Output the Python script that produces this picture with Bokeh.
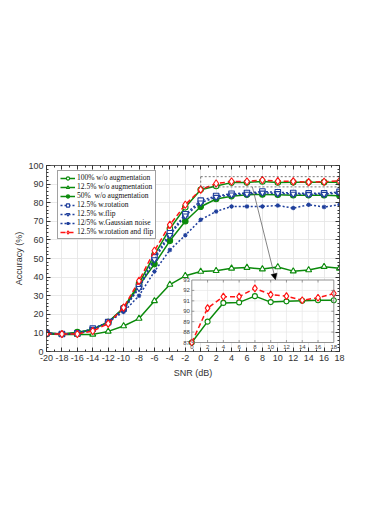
import numpy as np
from bokeh.plotting import figure
from bokeh.embed import file_html
from bokeh.resources import INLINE
from bokeh.models import (Range1d, LinearAxis, SingleIntervalTicker, Arrow, NormalHead,
                          PrintfTickFormatter)
from bokeh.core.properties import value

# ---------------- data ----------------
snr = [-20, -18, -16, -14, -12, -10, -8, -6, -4, -2, 0, 2, 4, 6, 8, 10, 12, 14, 16, 18]
acc_100 = [10.0, 9.4, 9.8, 12.0, 15.8, 23.5, 36.5, 52.0, 66.0, 77.5, 87.0, 89.0, 90.8, 90.85, 91.45, 90.88, 90.95, 91.0, 91.05, 91.05]
acc_125 = [9.4, 9.2, 9.2, 9.2, 10.8, 13.7, 17.7, 27.2, 36.0, 40.7, 43.0, 43.4, 44.7, 45.1, 44.3, 45.4, 43.2, 43.8, 45.6, 44.7]
acc_50 = [9.8, 9.4, 10.4, 11.9, 15.8, 23.0, 35.5, 47.0, 59.5, 70.0, 77.8, 82.0, 83.5, 84.3, 84.4, 84.3, 84.0, 84.0, 84.0, 83.8]
acc_rot = [9.9, 9.4, 9.8, 12.3, 15.8, 23.0, 34.8, 50.6, 63.6, 73.8, 81.1, 83.6, 84.8, 85.2, 86.0, 85.6, 85.2, 85.0, 85.1, 85.8]
acc_flip = [9.8, 9.4, 9.7, 12.0, 15.5, 22.5, 34.0, 49.5, 62.5, 73.0, 80.0, 83.0, 84.3, 84.7, 85.3, 85.0, 84.7, 84.5, 84.6, 85.2]
acc_gauss = [9.7, 9.4, 9.6, 12.0, 15.8, 21.3, 30.0, 43.0, 54.6, 62.5, 70.8, 75.3, 78.0, 78.0, 78.0, 78.5, 77.1, 78.9, 77.7, 78.9]
acc_rf = [9.4, 9.4, 9.4, 11.0, 15.0, 23.6, 38.0, 54.2, 68.1, 78.9, 87.0, 90.3, 91.4, 91.4, 92.2, 91.6, 91.45, 91.05, 91.3, 91.7]

labels = ["100% w/o augmentation", "12.5% w/o augmentation", "50%  w/o augmentation",
          "12.5% w.rotation", "12.5% w.flip", "12/5% w.Gaussian noise",
          "12.5% w.rotation and flip"]

inset_xticks = [0, 2, 4, 6, 8, 10, 12, 14, 16, 18]
inset_yticks = [87, 88, 89, 90, 91, 92, 93]
zoom_box = dict(x0=0, x1=18, y0=88.5, y1=94)
arrow_pts = dict(x0=6.7, y0=88.5, x1=9.7, y1=38.6)

# ---------------- styling ----------------
GREEN = "#0b8a0b"
BLUE = "#1f3f9c"
RED = "#ff1414"
AX = "#333333"
FONT = value("Liberation Sans")
LFONT = "Liberation Serif"

FW, FH = 293, 186
p = figure(frame_width=FW, frame_height=FH,
           x_range=Range1d(-20, 18), y_range=Range1d(0, 100),
           output_backend="svg", toolbar_location=None,
           min_border_left=46, min_border_right=20, min_border_top=165, min_border_bottom=150)
p.outline_line_color = None
p.background_fill_color = "white"

xt = SingleIntervalTicker(interval=2, num_minor_ticks=2)
yt = SingleIntervalTicker(interval=10, num_minor_ticks=5)

def style_axis(ax, show_labels=True, label_standoff=4):
    ax.major_tick_in = 4
    ax.major_tick_out = 0
    ax.minor_tick_in = 2
    ax.minor_tick_out = 0
    ax.axis_line_color = AX
    ax.major_tick_line_color = AX
    ax.minor_tick_line_color = AX
    ax.axis_line_width = 0.8
    ax.formatter = PrintfTickFormatter(format="%d")
    ax.major_label_text_font = "Liberation Sans"
    ax.major_label_text_font_size = "9px"
    ax.major_label_text_color = AX if show_labels else None
    ax.major_label_standoff = 3
    ax.axis_label_text_font = "Liberation Sans"
    ax.axis_label_text_font_style = "normal"
    ax.axis_label_text_font_size = "9px"
    ax.axis_label_text_color = AX
    ax.axis_label_standoff = label_standoff

p.xaxis.ticker = xt
p.yaxis.ticker = yt
p.xaxis.axis_label = "SNR (dB)"
p.yaxis.axis_label = "Accuracy (%)"
style_axis(p.xaxis[0])
style_axis(p.yaxis[0], label_standoff=1)
top = LinearAxis(ticker=xt)
right = LinearAxis(ticker=yt)
style_axis(top, False)
style_axis(right, False)
p.add_layout(top, "above")
p.add_layout(right, "right")

p.xgrid.ticker = xt
p.ygrid.ticker = yt
for g in (p.xgrid[0], p.ygrid[0]):
    g.grid_line_color = "#e3e3e3"
    g.grid_line_width = 0.8

LW = 1.5
series = [
    (acc_100, GREEN, "solid", "circle", "white", 5.5),
    (acc_125, GREEN, "solid", "triangle", "white", 6),
    (acc_50, GREEN, "solid", "circle", GREEN, 5.5),
    (acc_rot, BLUE, "2 2", "square", "white", 5.5),
    (acc_flip, BLUE, "2 2", "inverted_triangle", "white", 6),
    (acc_gauss, BLUE, "2 2", "asterisk", BLUE, 4.5),
    (acc_rf, RED, "5 3", "diamond", "white", 7.5),
]
for (ys, col, dash, mk, fill, sz), lab in zip(series, labels):
    p.line(snr, ys, line_color=col, line_width=LW, line_dash=dash, legend_label=lab)
    p.scatter(snr, ys, marker=mk, size=sz, line_color=col, fill_color=fill,
              line_width=1.1, legend_label=lab)

# dashed zoom rectangle
p.quad(left=[zoom_box["x0"]], right=[zoom_box["x1"]], bottom=[zoom_box["y0"]], top=[zoom_box["y1"]],
       fill_color=None, line_color="#555555", line_width=0.8, line_dash="2 2")

# ---------------- inset via extra ranges ----------------
IL, IR, IT, IB = 145.3, 287.3, 114.5, 177.0   # inset box in frame pixels
ux = (inset_xticks[-1] - inset_xticks[0]) / (IR - IL)
uy = (inset_yticks[-1] - inset_yticks[0]) / (IB - IT)
p.extra_x_ranges = {"ix": Range1d(inset_xticks[0] - IL * ux, inset_xticks[-1] + (FW - IR) * ux)}
p.extra_y_ranges = {"iy": Range1d(inset_yticks[0] - (FH - IB) * uy, inset_yticks[-1] + IT * uy)}
ik = dict(x_range_name="ix", y_range_name="iy")
x0i, x1i = inset_xticks[0], inset_xticks[-1]
y0i, y1i = inset_yticks[0], inset_yticks[-1]

p.quad(left=[x0i], right=[x1i], bottom=[y0i], top=[y1i], fill_color="white",
       line_color=None, **ik)
# inset grid
gx = inset_xticks[1:-1]
gy = inset_yticks[1:-1]
p.segment(x0=gx, y0=[y0i] * len(gx), x1=gx, y1=[y1i] * len(gx), line_color="#e6e6e6", line_width=0.7, **ik)
p.segment(x0=[x0i] * len(gy), y0=gy, x1=[x1i] * len(gy), y1=gy, line_color="#e6e6e6", line_width=0.7, **ik)

snr_arr = np.array(snr)
mask = snr_arr >= 0
xi = snr_arr[mask]
g_in = np.array(acc_100)[mask]
r_in = np.array(acc_rf)[mask]
p.line(xi, g_in, line_color=GREEN, line_width=LW, **ik)
p.scatter(xi, g_in, marker="circle", size=5, line_color=GREEN, fill_color="white", line_width=1.1, **ik)
p.line(xi, r_in, line_color=RED, line_width=LW, line_dash="5 3", **ik)
p.scatter(xi, r_in, marker="diamond", size=7, line_color=RED, fill_color="white", line_width=1.1, **ik)

# inset frame + ticks
p.quad(left=[x0i], right=[x1i], bottom=[y0i], top=[y1i], fill_color=None,
       line_color="#777777", line_width=0.8, **ik)
tl_x = 2.5 * uy
tl_y = 2.5 * ux
p.segment(x0=gx, y0=[y0i] * len(gx), x1=gx, y1=[y0i + tl_x] * len(gx), line_color="#777777", line_width=0.7, **ik)
p.segment(x0=gx, y0=[y1i] * len(gx), x1=gx, y1=[y1i - tl_x] * len(gx), line_color="#777777", line_width=0.7, **ik)
p.segment(x0=[x0i] * len(gy), y0=gy, x1=[x0i + tl_y] * len(gy), y1=gy, line_color="#777777", line_width=0.7, **ik)
p.segment(x0=[x1i] * len(gy), y0=gy, x1=[x1i - tl_y] * len(gy), y1=gy, line_color="#777777", line_width=0.7, **ik)

p.text(x=inset_xticks, y=[y0i] * len(inset_xticks), text=[str(t) for t in inset_xticks],
       text_align="center", text_baseline="top", y_offset=2, text_font=FONT,
       text_font_size="6px", text_color="#444444", **ik)
p.text(x=[x0i] * len(inset_yticks), y=inset_yticks, text=[str(t) for t in inset_yticks],
       text_align="right", text_baseline="middle", x_offset=-2, text_font=FONT,
       text_font_size="6px", text_color="#444444", **ik)

# arrow
p.add_layout(Arrow(x_start=arrow_pts["x0"], y_start=arrow_pts["y0"], x_end=arrow_pts["x1"], y_end=arrow_pts["y1"],
                   line_color="#666666", line_width=0.8,
                   end=NormalHead(size=6, fill_color="black", line_color="black", line_width=0.5)))

# legend
lg = p.legend[0]
lg.location = (11, 112)
lg.label_text_font = LFONT
lg.label_text_font_size = "7.5px"
lg.label_text_color = "#111111"
lg.label_height = 8
lg.glyph_height = 8
lg.glyph_width = 15
lg.label_standoff = 2
lg.spacing = 0
lg.padding = 2
lg.margin = 0
lg.border_line_color = "#444444"
lg.border_line_width = 0.8
lg.background_fill_alpha = 1

open("out.html", "w").write(file_html(p, INLINE))
